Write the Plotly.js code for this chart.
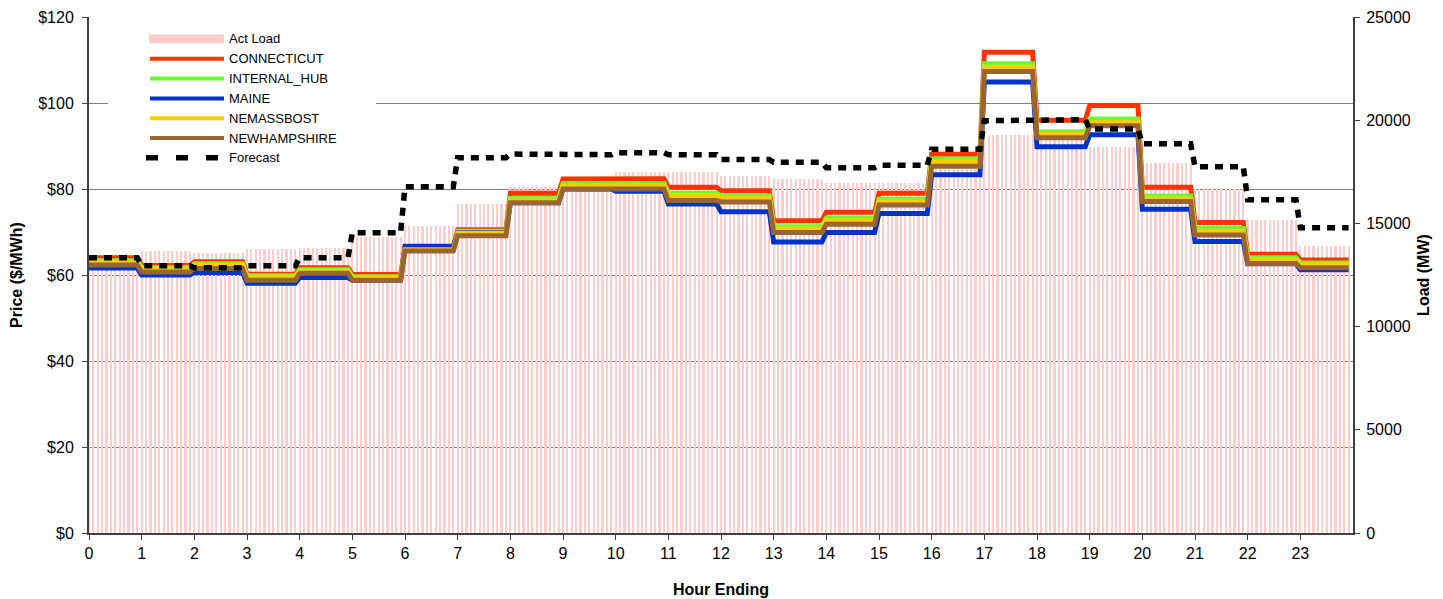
<!DOCTYPE html>
<html><head><meta charset="utf-8">
<script src="https://cdn.plot.ly/plotly-3.0.1.min.js"></script>
<style>html,body{margin:0;padding:0;background:#fff}#chart{width:1443px;height:599px}</style>
</head><body><div id="chart"></div>
<script>
// ---- data (hourly blocks, each shown as twelve 5-minute intervals) ----
const hours = [0,1,2,3,4,5,6,7,8,9,10,11,12,13,14,15,16,17,18,19,20,21,22,23];
const hourTickLabels = ["0","1","2","3","4","5","6","7","8","9","10","11","12","13","14","15","16","17","18","19","20","21","22","23"];
const actLoad      = [13100,13660,13550,13760,13820,14355,14875,15940,16780,17100,17505,17505,17300,17135,16975,16975,18100,19280,19100,18720,17910,16650,15165,13905];
const connecticut  = [64.0,62.2,63.1,60.2,61.7,60.1,66.3,70.5,79.0,82.3,82.4,80.4,79.6,72.6,74.6,79.0,88.1,111.8,96.0,99.4,80.4,72.2,64.8,63.5];
const internalHub  = [63.3,61.7,62.6,59.8,61.2,59.6,66.1,70.2,77.8,81.2,81.3,79.0,78.4,71.2,73.2,77.6,87.0,109.1,93.3,96.3,78.4,70.8,64.0,62.8];
const maine        = [61.6,60.0,60.6,58.1,59.4,58.8,66.7,69.8,76.8,80.0,79.5,76.5,74.7,67.7,69.9,74.3,83.3,104.9,89.8,92.6,75.3,67.8,62.6,61.2];
const nemassbost   = [62.9,61.4,62.3,59.5,60.8,59.3,65.9,69.7,77.4,80.7,80.8,78.4,77.8,70.7,72.6,77.0,86.3,108.3,92.7,95.4,77.7,70.2,63.5,62.4];
const newhampshire = [62.3,60.7,61.5,58.8,60.4,58.8,65.6,69.1,76.8,80.0,80.0,77.3,77.0,69.9,71.8,76.3,85.3,107.3,91.9,94.7,77.1,69.3,62.7,61.7];
const forecast     = [13340,12950,12855,12950,13340,14550,16780,18185,18360,18330,18425,18330,18090,17960,17700,17815,18590,19975,20025,19575,18860,17750,16150,14790];
const priceTicks      = [0,20,40,60,80,100,120];
const priceTickLabels = ["$0","$20","$40","$60","$80","$100","$120"];
const loadTicks       = [0,5000,10000,15000,20000,25000];
const loadTickLabels  = ["0","5000","10000","15000","20000","25000"];

// ---- helpers ----
const STEPS = 12;
function expandX(){ const xs=[]; hours.forEach(h=>{ for(let m=0;m<STEPS;m++) xs.push(h+m/STEPS); }); return xs; }
function expand(arr){ const out=[]; arr.forEach(v=>{ for(let m=0;m<STEPS;m++) out.push(v); }); return out; }
const X = expandX();
const FONT = 'Liberation Sans, Arial, sans-serif';

const series = [
  {name:'CONNECTICUT', data:connecticut, color:'#FF3300'},
  {name:'INTERNAL_HUB', data:internalHub, color:'#66FF33'},
  {name:'MAINE', data:maine, color:'#0033CC'},
  {name:'NEMASSBOST', data:nemassbost, color:'#FFCC00'},
  {name:'NEWHAMPSHIRE', data:newhampshire, color:'#996633'}
];

const traces = [];
traces.push({type:'bar', name:'Act Load', x:X, y:expand(actLoad), width:1/(2*STEPS),
  marker:{color:'#FFCCCC', line:{width:0}}, xaxis:'x', yaxis:'y', showlegend:false, hoverinfo:'skip'});
series.forEach(s=>{
  traces.push({type:'scatter', mode:'lines', name:s.name, x:X, y:expand(s.data),
    line:{color:s.color, width:5}, xaxis:'x', yaxis:'y2', showlegend:false, hoverinfo:'skip'});
});
traces.push({type:'scatter', mode:'lines', name:'Forecast', x:X, y:expand(forecast),
  line:{color:'#000000', width:5.5, dash:'8px,7px'}, xaxis:'x', yaxis:'y3', showlegend:false, hoverinfo:'skip'});

// ---- custom legend (paper coords from pixel positions) ----
const L=89, R=1353, T=17, B=533;
const px = x => (x-L)/(R-L);
const py = y => (B-y)/(B-T);
const shapes = [];
const annotations = [];
shapes.push({type:'rect', xref:'paper', yref:'paper', x0:px(108), x1:px(376), y0:py(170), y1:py(24),
  fillcolor:'#FFFFFF', line:{width:0}, layer:'above'});
const legendItems = [
  {name:'Act Load', kind:'box', color:'#FFCCCC'},
  {name:'CONNECTICUT', kind:'line', color:'#FF3300'},
  {name:'INTERNAL_HUB', kind:'line', color:'#66FF33'},
  {name:'MAINE', kind:'line', color:'#0033CC'},
  {name:'NEMASSBOST', kind:'line', color:'#FFCC00'},
  {name:'NEWHAMPSHIRE', kind:'line', color:'#996633'},
  {name:'Forecast', kind:'dash', color:'#000000'}
];
legendItems.forEach((it,i)=>{
  const yc = 39 + i*19.8;
  if(it.kind==='box'){
    shapes.push({type:'rect', xref:'paper', yref:'paper', x0:px(149), x1:px(224), y0:py(yc+4.5), y1:py(yc-4.5),
      fillcolor:it.color, line:{width:0}, layer:'above'});
  } else if(it.kind==='line'){
    shapes.push({type:'line', xref:'paper', yref:'paper', x0:px(150), x1:px(224), y0:py(yc), y1:py(yc),
      line:{color:it.color, width:4}, layer:'above'});
  } else {
    shapes.push({type:'line', xref:'paper', yref:'paper', x0:px(146), x1:px(224), y0:py(yc), y1:py(yc),
      line:{color:it.color, width:5.5, dash:'12px,18px'}, layer:'above'});
  }
  annotations.push({xref:'paper', yref:'paper', x:px(227), y:py(yc), text:it.name, showarrow:false,
    xanchor:'left', yanchor:'middle', font:{family:FONT, size:13, color:'#000'}});
});

const axisLine = '#404040';
const layout = {
  width:1443, height:599,
  margin:{l:L, r:1443-R, t:T, b:599-B, pad:0},
  paper_bgcolor:'#FFFFFF', plot_bgcolor:'#FFFFFF',
  bargap:0, showlegend:false,
  font:{family:FONT, size:16, color:'#000'},
  xaxis:{range:[0,24], tickmode:'array', tickvals:hours, ticktext:hourTickLabels, showgrid:false, zeroline:false,
    showline:true, linecolor:axisLine, linewidth:2, ticks:'outside', ticklen:5, tickcolor:axisLine, tickwidth:1,
    tickfont:{family:FONT, size:16, color:'#000'},
    title:{text:'<b>Hour Ending</b>', font:{family:FONT, size:16, color:'#000'}, standoff:23}},
  yaxis:{range:[0,25000], side:'right', tickmode:'array', tickvals:loadTicks, ticktext:loadTickLabels,
    showgrid:false, zeroline:false, ticklabelstandoff:3,
    showline:true, linecolor:axisLine, linewidth:2, ticks:'outside', ticklen:5, tickcolor:axisLine,
    tickfont:{family:FONT, size:16, color:'#000'},
    title:{text:'<b>Load (MW)</b>', font:{family:FONT, size:16, color:'#000'}, standoff:8}},
  yaxis2:{range:[0,120], overlaying:'y', side:'left', tickmode:'array', tickvals:priceTicks, ticktext:priceTickLabels,
    showgrid:true, gridcolor:'#808080', gridwidth:1, zeroline:false, ticklabelstandoff:5,
    showline:true, linecolor:axisLine, linewidth:2, ticks:'outside', ticklen:5, tickcolor:axisLine,
    tickfont:{family:FONT, size:16, color:'#000'},
    title:{text:'<b>Price ($/MWh)</b>', font:{family:FONT, size:16, color:'#000'}, standoff:12}},
  yaxis3:{range:[0,25000], overlaying:'y', visible:false, showgrid:false, zeroline:false},
  shapes:shapes, annotations:annotations
};
Plotly.newPlot('chart', traces, layout, {staticPlot:true, displayModeBar:false});
</script>
</body></html>
